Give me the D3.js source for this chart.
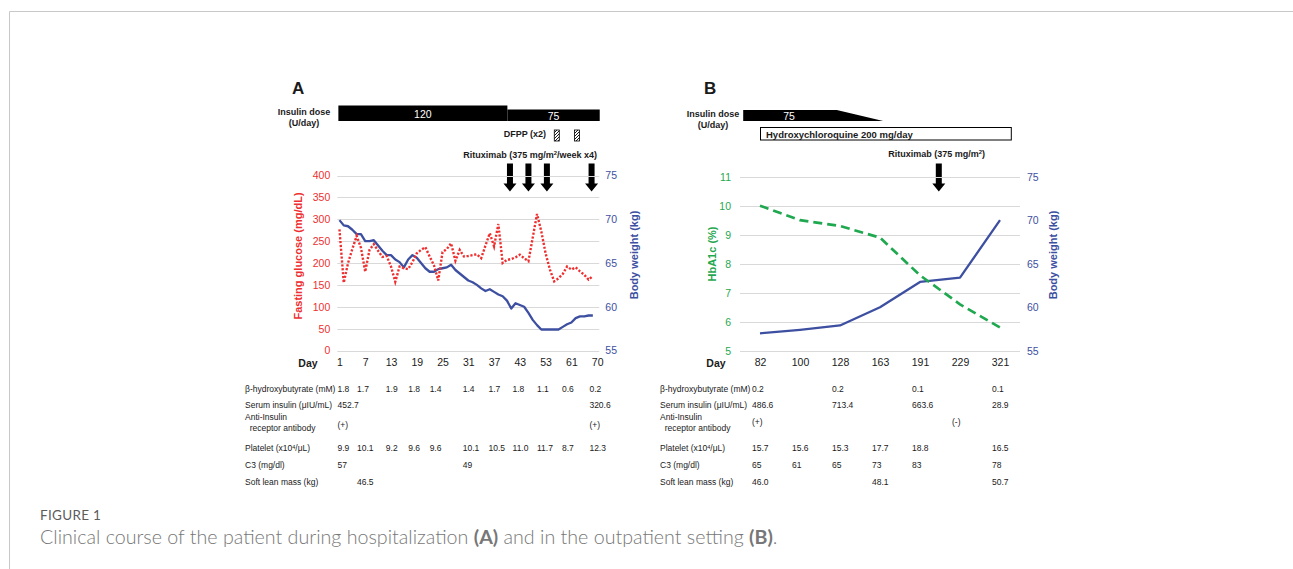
<!DOCTYPE html>
<html lang="en">
<head>
<meta charset="UTF-8">
<title>Figure 1 - Clinical course</title>
<script src="https://d3js.org/d3.v7.min.js"></script>
<style>
  body { margin: 0; background: #fff; }
  svg { display: block; font-family: "Liberation Sans", Arial, sans-serif; }
  .grid line { stroke: #d9d9d9; stroke-width: 1; }
</style>
</head>
<body>
<svg id="fig" width="1293" height="569"></svg>
<script>
// ---------- panel A data (hospitalization) ----------
const dayTicksA = ["1", "7", "13", "19", "25", "31", "37", "43", "53", "61", "70"];
const glucoseA = [277, 155, 200, 232, 262, 235, 180, 230, 243, 228,
                  214, 216, 192, 157, 192, 188, 186, 202, 222, 230,
                  236, 215, 195, 160, 225, 232, 245, 205, 230, 215,
                  216, 218, 220, 211, 240, 268, 238, 289, 200, 207,
                  209, 213, 219, 211, 204, 258, 312, 272, 222, 185,
                  158, 165, 175, 192, 185, 190, 181, 173, 162, 170];
const weightA = [69.9, 69.3, 69.2, 68.8, 68.3, 68.3, 67.5, 67.5, 67.6, 67.0,
                 66.4, 65.9, 65.9, 65.4, 65.1, 64.5, 65.4, 65.9, 65.6, 65.0,
                 64.4, 64.0, 64.0, 64.3, 64.4, 64.5, 64.8, 64.2, 63.8, 63.4,
                 63.0, 62.8, 62.5, 62.1, 61.8, 62.0, 61.7, 61.4, 61.2, 60.7,
                 59.8, 60.4, 60.2, 60.0, 59.3, 58.5, 57.9, 57.4, 57.4, 57.4,
                 57.4, 57.4, 57.7, 58.0, 58.2, 58.7, 58.9, 58.9, 59.0, 59.0];
const insulinDoseA = ["120", "75"];
const insulinStepA = [-0.25, 39.1, 60.6];   // dose periods on the day index
const dfppA = [50.6, 55.3];
const rituximabA = [39.7, 44.0, 48.3, 58.7];

// ---------- panel B data (outpatient) ----------
const daysB = ["82", "100", "128", "163", "191", "229", "321"];
const hba1cB = [10.0, 9.5, 9.3, 8.9, 7.6, 6.6, 5.8];
const weightB = [57.0, 57.4, 57.9, 60.0, 62.9, 63.4, 70.0];
const insulinDoseB = "75";
const insulinTaperB = [-0.42, 1.92, 3.08];  // start, start of taper, end
const hcqB = [0, 6.27];
const rituximabB = [4.47];

// ---------- lab tables ----------
const rowLabels = ["β-hydroxybutyrate (mM)", "Serum insulin (μIU/mL)", "Anti-Insulin|  receptor antibody",
                   "Platelet (x10^4/μL)", "C3 (mg/dl)", "Soft lean mass (kg)"];
const bhbA = ["1.8", "1.7", "1.9", "1.8", "1.4", "1.4", "1.7", "1.8", "1.1", "0.6", "0.2"];
const insA = ["452.7", null, null, null, null, null, null, null, null, null, "320.6"];
const abA  = ["(+)", null, null, null, null, null, null, null, null, null, "(+)"];
const pltA = ["9.9", "10.1", "9.2", "9.6", "9.6", "10.1", "10.5", "11.0", "11.7", "8.7", "12.3"];
const c3A  = ["57", null, null, null, null, "49", null, null, null, null, null];
const slmA = [null, "46.5", null, null, null, null, null, null, null, null, null];

const bhbB = ["0.2", null, "0.2", null, "0.1", null, "0.1"];
const insB = ["486.6", null, "713.4", null, "663.6", null, "28.9"];
const abB  = ["(+)", null, null, null, null, "(-)", null];
const pltB = ["15.7", "15.6", "15.3", "17.7", "18.8", null, "16.5"];
const c3B  = ["65", "61", "65", "73", "83", null, "78"];
const slmB = ["46.0", null, null, "48.1", null, null, "50.7"];

// ---------- colours ----------
const RED = "#ef2f2f", BLUE = "#3d4fa1", GREEN = "#1fa84f", INK = "#1a1a1a";

const svg = d3.select("#fig");

// frame
svg.append("path").attr("d", "M9.5,569 V11.5 H1293").attr("fill", "none").attr("stroke", "#c8c8c8");

// ---------- scales ----------
const xA = d3.scaleLinear().domain([0, 60]).range([339.45, 597.15]);
const yG = d3.scaleLinear().domain([0, 400]).range([350.5, 175.5]);
const yWA = d3.scaleLinear().domain([55, 75]).range([350.5, 175.5]);

const xB = d3.scalePoint().domain(daysB).range([740, 1020]).padding(0.5);
const xBi = d3.scaleLinear().domain([0, daysB.length - 1]).range([xB(daysB[0]), xB(daysB[daysB.length - 1])]);
const yH = d3.scaleLinear().domain([5, 11]).range([350.7, 176.7]);
const yWB = d3.scaleLinear().domain([55, 75]).range([350.7, 176.7]);

function styleAxis(g, color) {
  g.select(".domain").remove();
  g.attr("font-family", null).attr("font-size", 10.5);
  g.selectAll("text").attr("fill", color);
}

function txt(x, y, s, opts = {}) {
  const t = svg.append("text").attr("x", x).attr("y", y)
    .attr("font-size", opts.size || 9).attr("fill", opts.fill || INK)
    .attr("text-anchor", opts.anchor || "start");
  // "^" marks a superscript part
  const parts = s.split("^");
  t.append("tspan").text(parts[0]);
  if (parts.length > 1) {
    t.append("tspan").text(parts[1][0]).attr("font-size", "0.65em").attr("dy", "-0.45em");
    t.append("tspan").text(parts[1].slice(1)).attr("dy", "0.3em");
  }
  if (opts.bold) t.attr("font-weight", "bold");
  return t;
}

function arrow(cx) {
  const top = 163.5, neck = 183.5, tip = 191.5;
  svg.append("path")
    .attr("d", `M${cx - 3},${top} H${cx + 3} V${neck} H${cx + 6.5} L${cx},${tip} L${cx - 6.5},${neck} H${cx - 3} Z`)
    .attr("fill", "#000");
}

// hatch pattern for DFPP
const pat = svg.append("defs").append("pattern").attr("id", "hatch")
  .attr("patternUnits", "userSpaceOnUse").attr("width", 3).attr("height", 3);
pat.append("rect").attr("width", 3).attr("height", 3).attr("fill", "#fff");
pat.append("path").attr("d", "M-1,1 l2,-2 M0,3 l3,-3 M2,4 l2,-2").attr("stroke", "#000").attr("stroke-width", 0.9);

// =============== PANEL A ===============
txt(292, 93.5, "A", { size: 17, bold: true });

txt(304, 115, "Insulin dose", { bold: true, anchor: "middle" });
txt(304, 125.5, "(U/day)", { bold: true, anchor: "middle" });

// insulin dose steps
svg.append("rect").attr("x", xA(insulinStepA[0])).attr("y", 105.5)
  .attr("width", xA(insulinStepA[1]) - xA(insulinStepA[0])).attr("height", 15.5).attr("fill", "#000");
svg.append("rect").attr("x", xA(insulinStepA[1])).attr("y", 109.5)
  .attr("width", xA(insulinStepA[2]) - xA(insulinStepA[1])).attr("height", 11.5).attr("fill", "#000");
txt((xA(insulinStepA[0]) + xA(insulinStepA[1])) / 2, 117.5, insulinDoseA[0], { size: 10.5, fill: "#fff", anchor: "middle" });
txt((xA(insulinStepA[1]) + xA(insulinStepA[2])) / 2, 120, insulinDoseA[1], { size: 10.5, fill: "#fff", anchor: "middle" });

// DFPP
txt(546, 137, "DFPP (x2)", { bold: true, anchor: "end" });
dfppA.forEach(d => {
  svg.append("rect").attr("x", xA(d) - 2.5).attr("y", 130).attr("width", 5).attr("height", 11)
    .attr("fill", "url(#hatch)").attr("stroke", "#000").attr("stroke-width", 0.8);
});

txt(597, 157.5, "Rituximab (375 mg/m^2/week x4)", { bold: true, anchor: "end" });
rituximabA.forEach(d => arrow(xA(d)));

// grid
svg.append("g").attr("class", "grid").selectAll("line")
  .data(d3.range(0, 401, 50)).join("line")
  .attr("x1", xA(-0.5)).attr("x2", xA(60.5))
  .attr("y1", d => Math.round(yG(d)) + 0.5).attr("y2", d => Math.round(yG(d)) + 0.5);

svg.append("g").attr("transform", `translate(${xA(-0.5)},0)`)
  .call(d3.axisLeft(yG).tickValues(d3.range(0, 401, 50)).tickSize(0).tickPadding(7))
  .call(g => styleAxis(g, RED));
svg.append("g").attr("transform", `translate(${xA(60.5)},0)`)
  .call(d3.axisRight(yWA).tickValues(d3.range(55, 76, 5)).tickSize(0).tickPadding(6))
  .call(g => styleAxis(g, BLUE));
svg.append("g").attr("transform", `translate(0,${yG(0)})`)
  .call(d3.axisBottom(xA).tickValues(d3.range(0, 61, 6)).tickFormat((d, i) => dayTicksA[i]).tickSize(0).tickPadding(8))
  .call(g => styleAxis(g, INK));
txt(308, 367, "Day", { size: 10.5, bold: true, anchor: "middle" });

txt(0, 0, "Fasting glucose (mg/dL)", { size: 11, bold: true, fill: RED, anchor: "middle" })
  .attr("transform", "translate(302,256) rotate(-90)").attr("x", null).attr("y", null);
txt(0, 0, "Body weight (kg)", { size: 11, bold: true, fill: BLUE, anchor: "middle" })
  .attr("transform", "translate(637.5,255) rotate(-90)").attr("x", null).attr("y", null);

svg.append("path").datum(weightA)
  .attr("d", d3.line().x((d, i) => xA(i)).y(d => yWA(d)))
  .attr("fill", "none").attr("stroke", BLUE).attr("stroke-width", 2.3).attr("stroke-linejoin", "round");
svg.append("path").datum(glucoseA)
  .attr("d", d3.line().x((d, i) => xA(i)).y(d => yG(d)))
  .attr("fill", "none").attr("stroke", RED).attr("stroke-width", 2.4)
  .attr("stroke-dasharray", "2.2,1.7");

// =============== PANEL B ===============
txt(704, 93.5, "B", { size: 17, bold: true });
txt(713, 116.5, "Insulin dose", { bold: true, anchor: "middle" });
txt(713, 127.5, "(U/day)", { bold: true, anchor: "middle" });

const [b0, b1, b2] = insulinTaperB.map(xBi);
svg.append("path").attr("d", `M${b0},110 H${b1} L${b2},121 H${b0} Z`).attr("fill", "#000");
txt((b0 + b1) / 2 - 1, 119.5, insulinDoseB, { size: 10.5, fill: "#fff", anchor: "middle" });

svg.append("rect").attr("x", xBi(hcqB[0]) + 0.5).attr("y", 127.5)
  .attr("width", xBi(hcqB[1]) - xBi(hcqB[0])).attr("height", 12.5)
  .attr("fill", "#fff").attr("stroke", "#000").attr("stroke-width", 1);
txt(xBi(hcqB[0]) + 6, 137.5, "Hydroxychloroquine 200 mg/day", { size: 9.5, bold: true });

txt(985, 156.5, "Rituximab (375 mg/m^2)", { bold: true, anchor: "end" });
rituximabB.forEach(d => arrow(xBi(d)));

svg.append("g").attr("class", "grid").selectAll("line")
  .data(d3.range(5, 12)).join("line")
  .attr("x1", 740).attr("x2", 1020)
  .attr("y1", d => Math.round(yH(d)) + 0.5).attr("y2", d => Math.round(yH(d)) + 0.5);

svg.append("g").attr("transform", "translate(740,0)")
  .call(d3.axisLeft(yH).tickValues(d3.range(5, 12)).tickFormat(d3.format("d")).tickSize(0).tickPadding(9))
  .call(g => styleAxis(g, GREEN));
svg.append("g").attr("transform", "translate(1020,0)")
  .call(d3.axisRight(yWB).tickValues(d3.range(55, 76, 5)).tickSize(0).tickPadding(7))
  .call(g => styleAxis(g, BLUE));
svg.append("g").attr("transform", `translate(0,${yH(5)})`)
  .call(d3.axisBottom(xB).tickSize(0).tickPadding(8))
  .call(g => styleAxis(g, INK));
txt(716, 367, "Day", { size: 10.5, bold: true, anchor: "middle" });

txt(0, 0, "HbA1c (%)", { size: 11, bold: true, fill: GREEN, anchor: "middle" })
  .attr("transform", "translate(715.5,254) rotate(-90)").attr("x", null).attr("y", null);
txt(0, 0, "Body weight (kg)", { size: 11, bold: true, fill: BLUE, anchor: "middle" })
  .attr("transform", "translate(1057,255) rotate(-90)").attr("x", null).attr("y", null);

svg.append("path").datum(weightB)
  .attr("d", d3.line().x((d, i) => xB(daysB[i])).y(d => yWB(d)))
  .attr("fill", "none").attr("stroke", BLUE).attr("stroke-width", 2.3).attr("stroke-linejoin", "round");
svg.append("path").datum(hba1cB)
  .attr("d", d3.line().x((d, i) => xB(daysB[i])).y(d => yH(d)))
  .attr("fill", "none").attr("stroke", GREEN).attr("stroke-width", 2.7)
  .attr("stroke-dasharray", "9,5");

// =============== TABLES ===============
const rowY = [391.5, 407.5, 427.5, 451, 467.5, 485];
function labelRows(x) {
  rowLabels.forEach((l, r) => {
    if (l.includes("|")) {
      const [a, b] = l.split("|");
      txt(x, 420, a, { size: 8.5 });
      txt(x, 431, b, { size: 8.5 }).attr("xml:space", "preserve");
    } else {
      txt(x, rowY[r], l, { size: 8.5 });
    }
  });
}
labelRows(245);
labelRows(660);

const colA = [-0.45, 4.1, 10.8, 16.0, 21.0, 28.7, 34.7, 40.3, 46.0, 51.8, 58.2];
[bhbA, insA, abA, pltA, c3A, slmA].forEach((row, r) => {
  row.forEach((v, c) => { if (v) txt(xA(colA[c]), rowY[r], v, { size: 8.5 }); });
});
[bhbB, insB, abB, pltB, c3B, slmB].forEach((row, r) => {
  row.forEach((v, c) => { if (v) txt(xB(daysB[c]) - 8, rowY[r] - (r === 2 ? 3 : 0), v, { size: 8.5 }); });
});

// =============== CAPTION ===============
svg.append("text").attr("x", 40).attr("y", 520).text("FIGURE 1")
  .attr("font-family", "Lato, 'Open Sans', sans-serif").attr("font-size", 13.5)
  .attr("letter-spacing", 0.3).attr("fill", "#5c5c5c");
const cap = svg.append("text").attr("x", 40).attr("y", 544)
  .attr("font-family", "Lato, 'Open Sans', sans-serif").attr("font-weight", 300)
  .attr("font-size", 17).attr("fill", "#777");
[["Clinical course of the patient during hospitalization ", false], ["(A)", true],
 [" and in the outpatient setting ", false], ["(B)", true], [".", false]].forEach(([s, b]) => {
  cap.append("tspan").text(s).attr("font-weight", b ? "bold" : null).attr("xml:space", "preserve");
});
// fit caption to its width in the figure
const w = cap.node().getComputedTextLength();
cap.attr("font-size", 17 * 738 / w);
</script>
</body>
</html>
